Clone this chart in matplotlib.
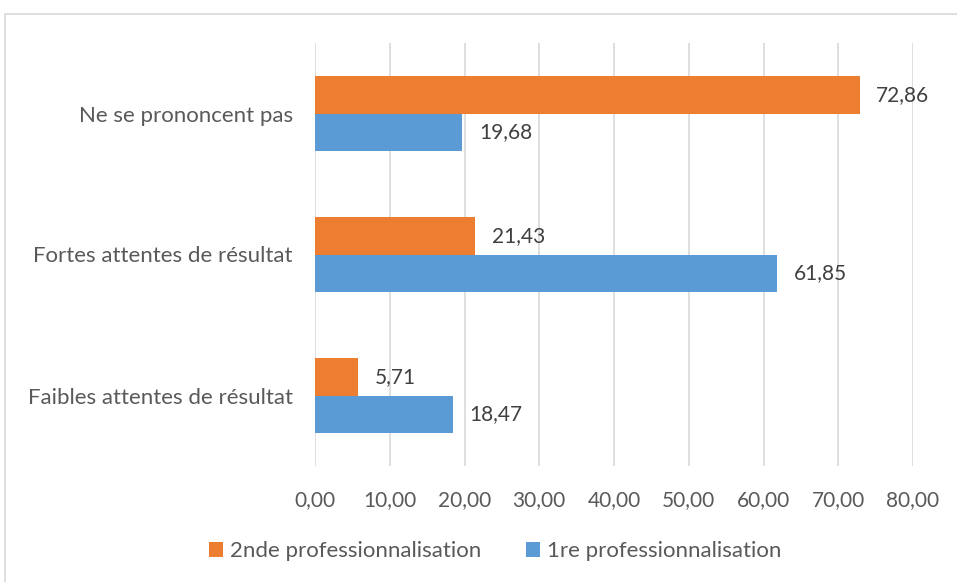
import numpy as np
import matplotlib
matplotlib.use("Agg")
import matplotlib.pyplot as plt
from matplotlib.patches import Rectangle, Patch

categories = ["Faibles attentes de résultat", "Fortes attentes de résultat", "Ne se prononcent pas"]
second_pro = [5.71, 21.43, 72.86]
first_pro = [18.47, 61.85, 19.68]
ticks = [0, 10, 20, 30, 40, 50, 60, 70, 80]

ORANGE = "#ED7D31"
BLUE = "#5B9BD5"
TEXT = "#595959"
VALUE_TEXT = "#404040"
FS_NUM = 15
FS_WORD = 16

plt.rcParams["font.family"] = ["Lato", "DejaVu Sans"]


def fr(v):
    return f"{v:.2f}".replace(".", ",")


fig = plt.figure(figsize=(9.57, 5.82), dpi=100)
fig.patches.append(Rectangle((5 / 957, -0.1), 1.2, 1 - 14 / 582 + 0.1,
                             transform=fig.transFigure, fill=False,
                             edgecolor="#d9d9d9", linewidth=1.2))
ax = fig.add_axes([315 / 957, 1 - 466 / 582, (913 - 315) / 957, (466 - 43) / 582])

y = np.arange(len(categories))
h = 0.265
b2 = ax.barh(y + h / 2, second_pro, height=h, color=ORANGE, zorder=3)
b1 = ax.barh(y - h / 2, first_pro, height=h, color=BLUE, zorder=3)

for bars, vals in ((b2, second_pro), (b1, first_pro)):
    for bar, v in zip(bars, vals):
        ax.annotate(fr(v), (v, bar.get_y() + bar.get_height() / 2),
                    xytext=(12, 0), textcoords="offset points",
                    va="center", ha="left", fontsize=FS_NUM, color=VALUE_TEXT)

ax.set_xlim(0, 80)
ax.set_ylim(-0.5, len(categories) - 0.5)
ax.set_xticks(ticks)
ax.set_xticklabels([fr(t) for t in ticks])
ax.set_yticks(y)
ax.set_yticklabels(categories)
ax.tick_params(axis="both", length=0, labelcolor=TEXT)
ax.tick_params(axis="x", pad=17, labelsize=FS_NUM)
ax.tick_params(axis="y", pad=16, labelsize=FS_WORD)
ax.grid(axis="x", color="#d9d9d9", linewidth=1.2, zorder=0)
for s in ax.spines.values():
    s.set_visible(False)

handles = [Patch(facecolor=ORANGE, label="2nde professionnalisation"),
           Patch(facecolor=BLUE, label="1re professionnalisation")]
fig.legend(handles=handles, loc="center", bbox_to_anchor=(495 / 957, 1 - 551 / 582),
           ncol=2, frameon=False, fontsize=FS_WORD, labelcolor=TEXT,
           handlelength=0.65, handleheight=0.65, handletextpad=0.3, columnspacing=2.0)

fig.savefig("out.png", dpi=100)
